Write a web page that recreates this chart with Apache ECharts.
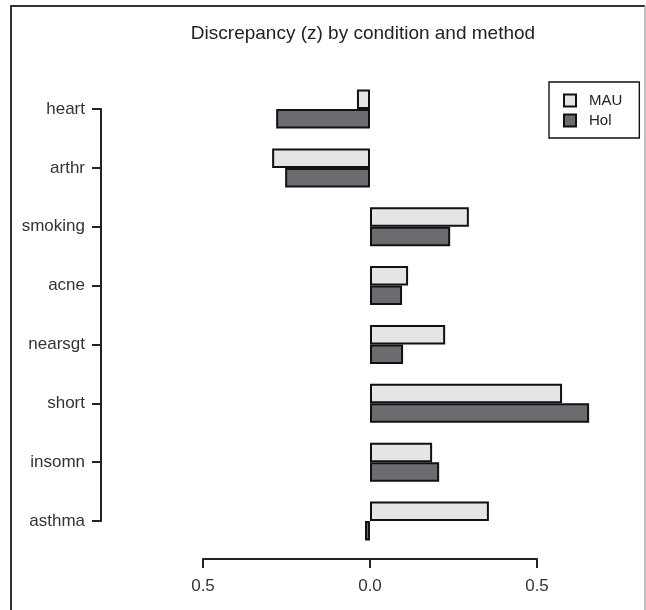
<!DOCTYPE html>
<html>
<head>
<meta charset="utf-8">
<script src="https://cdn.jsdelivr.net/npm/echarts@6/dist/echarts.min.js"></script>
<style>
  html, body { margin: 0; padding: 0; background: #fff; }
  #chart { width: 646px; height: 610px; }
</style>
</head>
<body>
<div id="chart"></div>
<script>
var conditions = ['heart', 'arthr', 'smoking', 'acne', 'nearsgt', 'short', 'insomn', 'asthma'];
var mauValues = [-0.039, -0.293, 0.296, 0.114, 0.225, 0.575, 0.186, 0.356];
var holValues = [-0.281, -0.254, 0.240, 0.096, 0.099, 0.656, 0.207, -0.015];
var xTicks = [-0.5, 0, 0.5];

var font = 'Liberation Sans, Arial, sans-serif';
var chart = echarts.init(document.getElementById('chart'));

var option = {
  animation: false,
  backgroundColor: '#fff',
  title: {
    text: 'Discrepancy (z) by condition and method',
    left: 358, top: 19, textAlign: 'center',
    textStyle: { fontFamily: font, fontSize: 19, fontWeight: 'normal', color: '#222' }
  },
  legend: {
    data: ['MAU', 'Hol'],
    orient: 'vertical',
    left: 549, top: 82,
    padding: [11, 17, 10, 14],
    itemWidth: 12, itemHeight: 12, itemGap: 5,
    icon: 'rect',
    borderColor: '#111', borderWidth: 1.4,
    textStyle: { fontFamily: font, fontSize: 15, color: '#222', padding: [0, 0, 0, 8] }
  },
  grid: [
    { left: 102.8, width: 534.4, top: 79.6, height: 470.8 },
    { left: 203, width: 334, top: 80, height: 479 },
    { left: 101, width: 400, top: 109, height: 412 }
  ],
  xAxis: [
    { gridIndex: 0, type: 'value', min: -0.8, max: 0.8, show: false },
    {
      gridIndex: 1, type: 'value', min: xTicks[0], max: xTicks[2], interval: 0.5,
      position: 'bottom',
      axisLine: { show: true, lineStyle: { color: '#222', width: 2 } },
      axisTick: { show: true, length: 9, lineStyle: { color: '#222', width: 2 } },
      splitLine: { show: false },
      axisLabel: {
        margin: 19, fontFamily: font, fontSize: 17, color: '#333',
        formatter: function (v) { return Math.abs(v).toFixed(1); }
      }
    },
    { gridIndex: 2, type: 'value', show: false }
  ],
  yAxis: [
    { gridIndex: 0, type: 'category', data: conditions, inverse: true, show: false },
    { gridIndex: 1, type: 'value', show: false },
    {
      gridIndex: 2, type: 'category', data: conditions, inverse: true, boundaryGap: false,
      position: 'left',
      axisLine: { show: true, lineStyle: { color: '#222', width: 2 } },
      axisTick: { show: true, length: 9, lineStyle: { color: '#222', width: 2 } },
      axisLabel: { margin: 16, fontFamily: font, fontSize: 17, color: '#333' }
    }
  ],
  series: [
    {
      name: 'MAU', type: 'bar', xAxisIndex: 0, yAxisIndex: 0,
      data: mauValues, barWidth: 19.5, barGap: '0%',
      itemStyle: { color: '#e4e5e6', borderColor: '#111', borderWidth: 2 }
    },
    {
      name: 'Hol', type: 'bar', xAxisIndex: 0, yAxisIndex: 0,
      data: holValues, barWidth: 19.5, barGap: '0%',
      itemStyle: { color: '#6b6c6f', borderColor: '#111', borderWidth: 2 }
    }
  ],
  graphic: [
    { type: 'line', shape: { x1: 11, y1: 6, x2: 11, y2: 610 }, style: { stroke: '#333', lineWidth: 2 } },
    { type: 'line', shape: { x1: 10, y1: 6, x2: 645, y2: 6 }, style: { stroke: '#333', lineWidth: 2 } },
    { type: 'line', shape: { x1: 645, y1: 6, x2: 645, y2: 610 }, style: { stroke: '#aaa', lineWidth: 1.5 } }
  ]
};

chart.setOption(option);
</script>
</body>
</html>
